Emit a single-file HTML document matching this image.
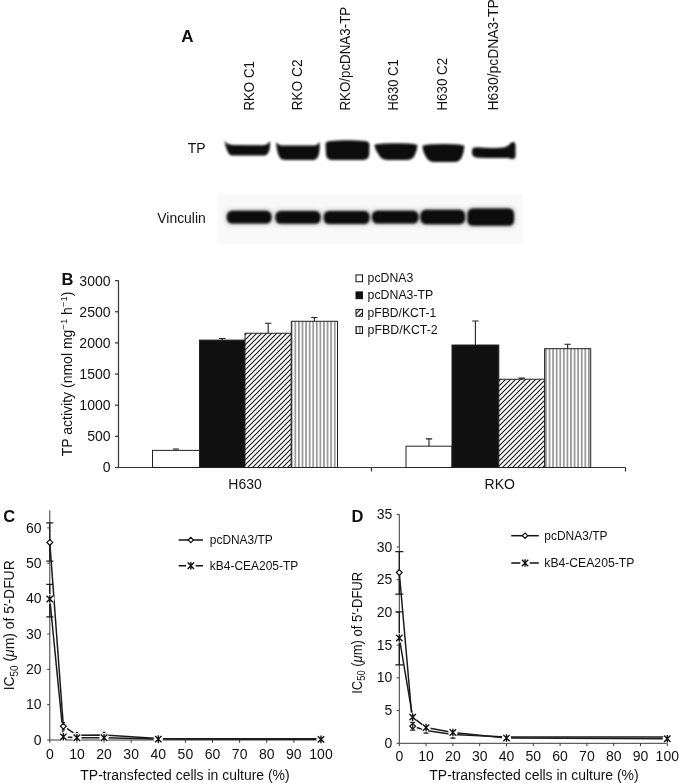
<!DOCTYPE html>
<html lang="en"><head><meta charset="utf-8"><title>Figure</title>
<style>html,body{margin:0;padding:0;background:#fff}svg{display:block}text{font-family:"Liberation Sans", sans-serif;fill:#111}</style></head><body>
<svg width="679" height="783" viewBox="0 0 679 783">
<defs>
<filter id="b1" x="-20%" y="-50%" width="140%" height="200%"><feGaussianBlur stdDeviation="0.85"/></filter>
<filter id="b2" x="-20%" y="-50%" width="140%" height="200%"><feGaussianBlur stdDeviation="1.0"/></filter>
<pattern id="hatch" width="5" height="5" patternUnits="userSpaceOnUse"><rect width="5" height="5" fill="#fff"/><path d="M-1,1 L1,-1 M-0.5,5.5 L5.5,-0.5 M4,6 L6,4" stroke="#1a1a1a" stroke-width="1.15"/></pattern>
<pattern id="vert" width="3.58" height="4" patternUnits="userSpaceOnUse"><rect width="3.58" height="4" fill="#fff"/><rect x="1.3" width="0.95" height="4" fill="#444"/></pattern>
</defs>
<rect width="679" height="783" fill="#fff"/>
<text x="181.3" y="42" font-size="17" text-anchor="start" font-weight="bold">A</text>
<text x="254.0" y="110.6" font-size="14" text-anchor="start" font-weight="normal" transform="rotate(-90 254.0 110.6)" textLength="49.5" lengthAdjust="spacingAndGlyphs">RKO C1</text>
<text x="302.0" y="110.6" font-size="14" text-anchor="start" font-weight="normal" transform="rotate(-90 302.0 110.6)" textLength="51.3" lengthAdjust="spacingAndGlyphs">RKO C2</text>
<text x="350.4" y="110.6" font-size="14" text-anchor="start" font-weight="normal" transform="rotate(-90 350.4 110.6)" textLength="103.8" lengthAdjust="spacingAndGlyphs">RKO/pcDNA3-TP</text>
<text x="398.0" y="110.6" font-size="14" text-anchor="start" font-weight="normal" transform="rotate(-90 398.0 110.6)" textLength="51.3" lengthAdjust="spacingAndGlyphs">H630 C1</text>
<text x="447.5" y="110.6" font-size="14" text-anchor="start" font-weight="normal" transform="rotate(-90 447.5 110.6)" textLength="52.8" lengthAdjust="spacingAndGlyphs">H630 C2</text>
<text x="498.0" y="110.6" font-size="14" text-anchor="start" font-weight="normal" transform="rotate(-90 498.0 110.6)" textLength="111.3" lengthAdjust="spacingAndGlyphs">H630/pcDNA3-TP</text>
<text x="205.6" y="153.3" font-size="14" text-anchor="end" font-weight="normal">TP</text>
<text x="205.8" y="222.9" font-size="14" text-anchor="end" font-weight="normal" textLength="48.5" lengthAdjust="spacingAndGlyphs">Vinculin</text>
<rect x="217.5" y="194" width="305" height="50" fill="#f8f8f8"/>
<g filter="url(#b1)" fill="#0a0a0a">
<path d="M224.6,140.2 C226,143.6 229,144.7 233,144.9 L262,145.2 C266,145.1 268.6,143.9 270,141 C270.5,147 269.3,151.5 267.8,153.6 C266.6,155.3 264.8,155.6 262.5,155.6 L233.5,155.6 C230.6,155.6 229.3,154.7 228.3,152.7 C226.4,149 225,145 224.6,140.2 Z"/>
<path d="M276.3,141.7 C277.5,144.6 280,145.5 284,145.6 L312,145.6 C316,145.5 318.3,144.4 319.5,141.7 C320.1,148 319.6,153 318.1,156.2 C316.9,159.4 314.6,160 312,160 L285.5,160 C282.6,160 280.4,159.4 279.2,156.6 C277.4,152.5 276.3,148 276.3,141.7 Z"/>
<path d="M325.5,144 Q326,141.2 331,141 Q347,139.6 364,141 Q369,141.2 369.5,144.5 L369.2,154.5 Q368.8,159.6 363,159.9 L332,159.9 Q326.5,159.6 326,154.5 Z"/>
<path d="M374.2,144.8 Q378,143.8 384,143.5 Q396,142.8 408,143.5 Q414,143.8 417.5,145 Q417,151 414.3,156 Q412.3,159.7 407.5,159.9 L386.5,159.9 Q382,159.7 379.5,156 Q375.2,150.5 374.2,144.8 Z"/>
<path d="M422.5,145.8 Q426,144.6 432,144.3 Q444,143.8 455,144.3 Q461,144.6 464.4,145.8 Q464.2,152 461.6,157.5 Q459.6,161.8 454.5,162.1 L433.5,162.1 Q429,161.8 426.4,157.5 Q422.7,152 422.5,145.8 Z"/>
<path d="M472,150 Q472.5,147.2 477,147.3 Q490,148.8 503,147.5 Q508,146.8 510.3,143.6 Q511.3,141.8 513.5,141.9 Q515.5,142.1 515.5,145 L515.5,156.3 Q515.4,159.1 512.5,159 Q510,158.8 508.5,157.9 Q490,158.4 478,157.7 Q472.4,157.2 472,153.5 Z"/>
</g>
<filter id="b3" x="-20%" y="-80%" width="140%" height="260%"><feGaussianBlur stdDeviation="2.6"/></filter>
<g filter="url(#b3)" fill="#000" opacity="0.22">
<rect x="225.8" y="209.8" width="46.69999999999999" height="14.799999999999983" rx="5"/>
<rect x="274.5" y="210" width="47.0" height="14.800000000000011" rx="5"/>
<rect x="322.8" y="210" width="47.69999999999999" height="15" rx="5"/>
<rect x="371" y="209.8" width="48.5" height="14.799999999999983" rx="5"/>
<rect x="419.5" y="208.8" width="46.5" height="16.399999999999977" rx="5"/>
<rect x="466.5" y="207.5" width="48.5" height="19.30000000000001" rx="5"/>
</g>
<g filter="url(#b2)" fill="#0a0a0a">
<rect x="226.8" y="210.8" width="44.69999999999999" height="12.799999999999983" rx="5.4"/>
<rect x="275.5" y="211" width="45.0" height="12.800000000000011" rx="5.4"/>
<rect x="323.8" y="211" width="45.69999999999999" height="13" rx="5.4"/>
<rect x="372" y="210.8" width="46.5" height="12.799999999999983" rx="5.4"/>
<rect x="420.5" y="209.8" width="44.5" height="14.399999999999977" rx="5.4"/>
<rect x="467.5" y="208.5" width="46.5" height="17.30000000000001" rx="5.4"/>
</g>
<text x="61.5" y="285.1" font-size="16.5" text-anchor="start" font-weight="bold">B</text>
<path d="M118.5,280.5 V467.5 M115,467.5 H625.5 M371.5,467.5 v4 M625.5,467.5 v4" stroke="#333" stroke-width="1.2" fill="none"/>
<path d="M115,467.50 H118.5" stroke="#333" stroke-width="1.2"/>
<text x="110.5" y="472.4" font-size="14" text-anchor="end" font-weight="normal">0</text>
<path d="M115,436.35 H118.5" stroke="#333" stroke-width="1.2"/>
<text x="110.5" y="441.25" font-size="14" text-anchor="end" font-weight="normal">500</text>
<path d="M115,405.20 H118.5" stroke="#333" stroke-width="1.2"/>
<text x="110.5" y="410.1" font-size="14" text-anchor="end" font-weight="normal">1000</text>
<path d="M115,374.05 H118.5" stroke="#333" stroke-width="1.2"/>
<text x="110.5" y="378.95" font-size="14" text-anchor="end" font-weight="normal">1500</text>
<path d="M115,342.90 H118.5" stroke="#333" stroke-width="1.2"/>
<text x="110.5" y="347.8" font-size="14" text-anchor="end" font-weight="normal">2000</text>
<path d="M115,311.75 H118.5" stroke="#333" stroke-width="1.2"/>
<text x="110.5" y="316.65" font-size="14" text-anchor="end" font-weight="normal">2500</text>
<path d="M115,280.60 H118.5" stroke="#333" stroke-width="1.2"/>
<text x="110.5" y="285.5" font-size="14" text-anchor="end" font-weight="normal">3000</text>
<text x="72.3" y="456.2" font-size="14" transform="rotate(-90 72.3 456.2)">TP activity (nmol mg<tspan font-size="9.5" dy="-4.8">−1</tspan><tspan dy="4.8"> h</tspan><tspan font-size="9.5" dy="-4.8">−1</tspan><tspan dy="4.8">)</tspan></text>
<rect x="152.5" y="450.37" width="47.0" height="17.13" fill="#fff" stroke="#222" stroke-width="1"/>
<path d="M176.0,450.37 V449.00 M172.8,449.00 H179.2" stroke="#222" stroke-width="1.1" fill="none"/>
<rect x="199.5" y="340.10" width="45.5" height="127.40" fill="#111" stroke="#222" stroke-width="1"/>
<path d="M222.25,340.10 V338.54 M219.05,338.54 H225.45" stroke="#222" stroke-width="1.1" fill="none"/>
<rect x="245" y="333.24" width="46.30000000000001" height="134.26" fill="url(#hatch)" stroke="#222" stroke-width="1"/>
<path d="M268.15,333.24 V323.28 M264.95,323.28 H271.34999999999997" stroke="#222" stroke-width="1.1" fill="none"/>
<rect x="291.3" y="321.28" width="46.19999999999999" height="146.22" fill="url(#vert)" stroke="#222" stroke-width="1"/>
<path d="M314.4,321.28 V317.54 M311.2,317.54 H317.59999999999997" stroke="#222" stroke-width="1.1" fill="none"/>
<rect x="406" y="446.19" width="46" height="21.31" fill="#fff" stroke="#222" stroke-width="1"/>
<path d="M429.0,446.19 V438.90 M425.8,438.90 H432.2" stroke="#222" stroke-width="1.1" fill="none"/>
<rect x="452" y="345.02" width="46.80000000000001" height="122.48" fill="#111" stroke="#222" stroke-width="1"/>
<path d="M475.4,345.02 V321.03 M472.2,321.03 H478.59999999999997" stroke="#222" stroke-width="1.1" fill="none"/>
<rect x="498.8" y="379.22" width="45.80000000000001" height="88.28" fill="url(#hatch)" stroke="#222" stroke-width="1"/>
<path d="M521.7,379.22 V378.10 M518.5,378.10 H524.9000000000001" stroke="#222" stroke-width="1.1" fill="none"/>
<rect x="544.6" y="348.69" width="46.10000000000002" height="118.81" fill="url(#vert)" stroke="#222" stroke-width="1"/>
<path d="M567.6500000000001,348.69 V344.21 M564.45,344.21 H570.8500000000001" stroke="#222" stroke-width="1.1" fill="none"/>
<text x="245" y="489.2" font-size="14" text-anchor="middle" font-weight="normal">H630</text>
<text x="499.7" y="489.3" font-size="14" text-anchor="middle" font-weight="normal">RKO</text>
<rect x="356" y="274.9" width="6.5" height="6.8" fill="#fff" stroke="#111" stroke-width="1"/>
<text x="367.6" y="282.2" font-size="12" text-anchor="start" font-weight="normal" textLength="45.7" lengthAdjust="spacingAndGlyphs">pcDNA3</text>
<rect x="356" y="291.9" width="6.5" height="6.8" fill="#111" stroke="#111" stroke-width="1"/>
<text x="367.6" y="299.2" font-size="12" text-anchor="start" font-weight="normal" textLength="65.7" lengthAdjust="spacingAndGlyphs">pcDNA3-TP</text>
<rect x="356" y="309.4" width="6.5" height="6.8" fill="url(#hatch)" stroke="#111" stroke-width="1"/>
<text x="367.6" y="316.7" font-size="12" text-anchor="start" font-weight="normal" textLength="68.6" lengthAdjust="spacingAndGlyphs">pFBD/KCT-1</text>
<rect x="356" y="326.7" width="6.5" height="6.8" fill="url(#vert)" stroke="#111" stroke-width="1"/>
<text x="367.6" y="334" font-size="12" text-anchor="start" font-weight="normal" textLength="70.1" lengthAdjust="spacingAndGlyphs">pFBD/KCT-2</text>
<text x="3.3" y="522.3" font-size="16.5" text-anchor="start" font-weight="bold">C</text>
<path d="M49.8,510.3 V740 H321.50000000000006" stroke="#3a3a3a" stroke-width="1" fill="none"/>
<path d="M47.199999999999996,740.00 H49.8" stroke="#3a3a3a" stroke-width="1"/>
<text x="41.599999999999994" y="744.6" font-size="14" text-anchor="end" font-weight="normal">0</text>
<path d="M47.199999999999996,704.65 H49.8" stroke="#3a3a3a" stroke-width="1"/>
<text x="41.599999999999994" y="709.25" font-size="14" text-anchor="end" font-weight="normal">10</text>
<path d="M47.199999999999996,669.30 H49.8" stroke="#3a3a3a" stroke-width="1"/>
<text x="41.599999999999994" y="673.9" font-size="14" text-anchor="end" font-weight="normal">20</text>
<path d="M47.199999999999996,633.95 H49.8" stroke="#3a3a3a" stroke-width="1"/>
<text x="41.599999999999994" y="638.55" font-size="14" text-anchor="end" font-weight="normal">30</text>
<path d="M47.199999999999996,598.60 H49.8" stroke="#3a3a3a" stroke-width="1"/>
<text x="41.599999999999994" y="603.2" font-size="14" text-anchor="end" font-weight="normal">40</text>
<path d="M47.199999999999996,563.25 H49.8" stroke="#3a3a3a" stroke-width="1"/>
<text x="41.599999999999994" y="567.85" font-size="14" text-anchor="end" font-weight="normal">50</text>
<path d="M47.199999999999996,527.90 H49.8" stroke="#3a3a3a" stroke-width="1"/>
<text x="41.599999999999994" y="532.5" font-size="14" text-anchor="end" font-weight="normal">60</text>
<path d="M49.80,740 v2.8" stroke="#3a3a3a" stroke-width="1"/>
<text x="49.8" y="758.9" font-size="14" text-anchor="middle" font-weight="normal">0</text>
<path d="M76.92,740 v2.8" stroke="#3a3a3a" stroke-width="1"/>
<text x="76.92" y="758.9" font-size="14" text-anchor="middle" font-weight="normal">10</text>
<path d="M104.04,740 v2.8" stroke="#3a3a3a" stroke-width="1"/>
<text x="104.04" y="758.9" font-size="14" text-anchor="middle" font-weight="normal">20</text>
<path d="M131.16,740 v2.8" stroke="#3a3a3a" stroke-width="1"/>
<text x="131.16" y="758.9" font-size="14" text-anchor="middle" font-weight="normal">30</text>
<path d="M158.28,740 v2.8" stroke="#3a3a3a" stroke-width="1"/>
<text x="158.28" y="758.9" font-size="14" text-anchor="middle" font-weight="normal">40</text>
<path d="M185.40,740 v2.8" stroke="#3a3a3a" stroke-width="1"/>
<text x="185.4" y="758.9" font-size="14" text-anchor="middle" font-weight="normal">50</text>
<path d="M212.52,740 v2.8" stroke="#3a3a3a" stroke-width="1"/>
<text x="212.52" y="758.9" font-size="14" text-anchor="middle" font-weight="normal">60</text>
<path d="M239.64,740 v2.8" stroke="#3a3a3a" stroke-width="1"/>
<text x="239.64" y="758.9" font-size="14" text-anchor="middle" font-weight="normal">70</text>
<path d="M266.76,740 v2.8" stroke="#3a3a3a" stroke-width="1"/>
<text x="266.76" y="758.9" font-size="14" text-anchor="middle" font-weight="normal">80</text>
<path d="M293.88,740 v2.8" stroke="#3a3a3a" stroke-width="1"/>
<text x="293.88" y="758.9" font-size="14" text-anchor="middle" font-weight="normal">90</text>
<path d="M321.00,740 v2.8" stroke="#3a3a3a" stroke-width="1"/>
<text x="321.0" y="758.9" font-size="14" text-anchor="middle" font-weight="normal">100</text>
<text x="185" y="779.9" font-size="14" text-anchor="middle" font-weight="normal" textLength="209.3" lengthAdjust="spacingAndGlyphs">TP-transfected cells in culture (%)</text>
<text x="14.3" y="690.3" font-size="14" transform="rotate(-90 14.3 690.3)" textLength="130" lengthAdjust="spacingAndGlyphs">IC<tspan font-size="10" dy="3.6">50</tspan><tspan dy="-3.6"> (</tspan><tspan font-style="italic">μ</tspan>m) of 5′-DFUR</text>
<path d="M49.80,522.95 V561.13 M46.30,522.95 H53.30 M46.30,561.13 H53.30" stroke="#1a1a1a" stroke-width="1.25" fill="none"/>
<path d="M49.80,584.46 V616.98 M46.30,584.46 H53.30 M46.30,616.98 H53.30" stroke="#1a1a1a" stroke-width="1.25" fill="none"/>
<polyline points="49.80,542.39 63.36,726.21 76.92,735.23 104.04,735.05 158.28,738.59 321.00,738.76" fill="none" stroke="#1c1c1c" stroke-width="1.5" stroke-linejoin="round"/>
<polyline points="49.80,598.95 63.36,736.82 76.92,737.70 104.04,737.70 158.28,739.12 321.00,739.36" fill="none" stroke="#1c1c1c" stroke-width="1.5" stroke-linejoin="round"/>
<circle cx="63.36" cy="726.21" r="4.3" fill="#fff"/>
<circle cx="76.92" cy="735.23" r="4.3" fill="#fff"/>
<circle cx="104.04" cy="735.05" r="4.3" fill="#fff"/>
<path d="M63.36,722.68 V729.75 M61.76,722.68 H64.96 M61.76,729.75 H64.96" stroke="#1a1a1a" stroke-width="1.25" fill="none"/>
<path d="M46.90,542.39 L49.80,539.49 L52.70,542.39 L49.80,545.29 Z" fill="#fff" stroke="#111" stroke-width="1.2"/>
<path d="M60.46,726.21 L63.36,723.31 L66.26,726.21 L63.36,729.11 Z" fill="#fff" stroke="#111" stroke-width="1.2"/>
<path d="M74.02,735.23 L76.92,732.33 L79.82,735.23 L76.92,738.13 Z" fill="#fff" stroke="#111" stroke-width="1.2"/>
<path d="M101.14,735.05 L104.04,732.15 L106.94,735.05 L104.04,737.95 Z" fill="#fff" stroke="#111" stroke-width="1.2"/>
<circle cx="49.80" cy="598.95" r="4.6" fill="#fff"/>
<circle cx="63.36" cy="736.82" r="4.6" fill="#fff"/>
<circle cx="76.92" cy="737.70" r="4.6" fill="#fff"/>
<circle cx="104.04" cy="737.70" r="4.6" fill="#fff"/>
<circle cx="158.28" cy="739.12" r="4.6" fill="#fff"/>
<circle cx="321.00" cy="739.36" r="4.6" fill="#fff"/>
<path d="M46.60,595.75 L53.00,602.15 M46.60,602.15 L53.00,595.75 M49.80,595.15 V602.75" stroke="#111" stroke-width="1.4" fill="none"/>
<path d="M60.16,733.62 L66.56,740.02 M60.16,740.02 L66.56,733.62 M63.36,733.02 V740.62" stroke="#111" stroke-width="1.4" fill="none"/>
<path d="M73.72,734.50 L80.12,740.90 M73.72,740.90 L80.12,734.50 M76.92,733.90 V741.50" stroke="#111" stroke-width="1.4" fill="none"/>
<path d="M100.84,734.50 L107.24,740.90 M100.84,740.90 L107.24,734.50 M104.04,733.90 V741.50" stroke="#111" stroke-width="1.4" fill="none"/>
<path d="M155.08,735.92 L161.48,742.32 M155.08,742.32 L161.48,735.92 M158.28,735.32 V742.92" stroke="#111" stroke-width="1.4" fill="none"/>
<path d="M317.80,736.16 L324.20,742.56 M317.80,742.56 L324.20,736.16 M321.00,735.56 V743.16" stroke="#111" stroke-width="1.4" fill="none"/>
<path d="M178.7,540 h24.3" stroke="#111" stroke-width="1.5"/>
<path d="M188.15,540.00 L190.85,537.30 L193.55,540.00 L190.85,542.70 Z" fill="#fff" stroke="#111" stroke-width="1.2"/>
<path d="M178.7,565.8 h7.4 M195.6,565.8 h7.4" stroke="#111" stroke-width="1.5"/>
<path d="M187.65,562.60 L194.05,569.00 M187.65,569.00 L194.05,562.60 M190.85,562.00 V569.60" stroke="#111" stroke-width="1.4" fill="none"/>
<text x="209.8" y="543.8" font-size="12" text-anchor="start" font-weight="normal" textLength="62.9" lengthAdjust="spacingAndGlyphs">pcDNA3/TP</text>
<text x="209.8" y="569.6" font-size="12" text-anchor="start" font-weight="normal" textLength="88.4" lengthAdjust="spacingAndGlyphs">kB4-CEA205-TP</text>
<text x="351.5" y="522.3" font-size="16.5" text-anchor="start" font-weight="bold">D</text>
<path d="M399.3,514.3 V743.3 H667.8" stroke="#3a3a3a" stroke-width="1" fill="none"/>
<path d="M396.7,743.30 H399.3" stroke="#3a3a3a" stroke-width="1"/>
<text x="392.40000000000003" y="747.9" font-size="14" text-anchor="end" font-weight="normal">0</text>
<path d="M396.7,710.58 H399.3" stroke="#3a3a3a" stroke-width="1"/>
<text x="392.40000000000003" y="715.18" font-size="14" text-anchor="end" font-weight="normal">5</text>
<path d="M396.7,677.87 H399.3" stroke="#3a3a3a" stroke-width="1"/>
<text x="392.40000000000003" y="682.47" font-size="14" text-anchor="end" font-weight="normal">10</text>
<path d="M396.7,645.15 H399.3" stroke="#3a3a3a" stroke-width="1"/>
<text x="392.40000000000003" y="649.75" font-size="14" text-anchor="end" font-weight="normal">15</text>
<path d="M396.7,612.44 H399.3" stroke="#3a3a3a" stroke-width="1"/>
<text x="392.40000000000003" y="617.04" font-size="14" text-anchor="end" font-weight="normal">20</text>
<path d="M396.7,579.72 H399.3" stroke="#3a3a3a" stroke-width="1"/>
<text x="392.40000000000003" y="584.32" font-size="14" text-anchor="end" font-weight="normal">25</text>
<path d="M396.7,547.01 H399.3" stroke="#3a3a3a" stroke-width="1"/>
<text x="392.40000000000003" y="551.61" font-size="14" text-anchor="end" font-weight="normal">30</text>
<path d="M396.7,514.29 H399.3" stroke="#3a3a3a" stroke-width="1"/>
<text x="392.40000000000003" y="518.89" font-size="14" text-anchor="end" font-weight="normal">35</text>
<path d="M399.30,743.3 v2.8" stroke="#3a3a3a" stroke-width="1"/>
<text x="399.3" y="760.8" font-size="14" text-anchor="middle" font-weight="normal">0</text>
<path d="M426.10,743.3 v2.8" stroke="#3a3a3a" stroke-width="1"/>
<text x="426.1" y="760.8" font-size="14" text-anchor="middle" font-weight="normal">10</text>
<path d="M452.90,743.3 v2.8" stroke="#3a3a3a" stroke-width="1"/>
<text x="452.9" y="760.8" font-size="14" text-anchor="middle" font-weight="normal">20</text>
<path d="M479.70,743.3 v2.8" stroke="#3a3a3a" stroke-width="1"/>
<text x="479.7" y="760.8" font-size="14" text-anchor="middle" font-weight="normal">30</text>
<path d="M506.50,743.3 v2.8" stroke="#3a3a3a" stroke-width="1"/>
<text x="506.5" y="760.8" font-size="14" text-anchor="middle" font-weight="normal">40</text>
<path d="M533.30,743.3 v2.8" stroke="#3a3a3a" stroke-width="1"/>
<text x="533.3" y="760.8" font-size="14" text-anchor="middle" font-weight="normal">50</text>
<path d="M560.10,743.3 v2.8" stroke="#3a3a3a" stroke-width="1"/>
<text x="560.1" y="760.8" font-size="14" text-anchor="middle" font-weight="normal">60</text>
<path d="M586.90,743.3 v2.8" stroke="#3a3a3a" stroke-width="1"/>
<text x="586.9" y="760.8" font-size="14" text-anchor="middle" font-weight="normal">70</text>
<path d="M613.70,743.3 v2.8" stroke="#3a3a3a" stroke-width="1"/>
<text x="613.7" y="760.8" font-size="14" text-anchor="middle" font-weight="normal">80</text>
<path d="M640.50,743.3 v2.8" stroke="#3a3a3a" stroke-width="1"/>
<text x="640.5" y="760.8" font-size="14" text-anchor="middle" font-weight="normal">90</text>
<path d="M667.30,743.3 v2.8" stroke="#3a3a3a" stroke-width="1"/>
<text x="667.3" y="760.8" font-size="14" text-anchor="middle" font-weight="normal">100</text>
<text x="534" y="779.5" font-size="14" text-anchor="middle" font-weight="normal" textLength="209.3" lengthAdjust="spacingAndGlyphs">TP-transfected cells in culture (%)</text>
<text x="361.9" y="693.8" font-size="14" transform="rotate(-90 361.9 693.8)" textLength="122" lengthAdjust="spacingAndGlyphs">IC<tspan font-size="10" dy="3.6">50</tspan><tspan dy="-3.6"> (</tspan><tspan font-style="italic">μ</tspan>m) of 5′-DFUR</text>
<path d="M399.30,551.59 V594.12 M395.30,551.59 H403.30 M395.30,594.12 H403.30" stroke="#1a1a1a" stroke-width="1.25" fill="none"/>
<path d="M399.30,611.79 V664.78 M395.30,611.79 H403.30 M395.30,664.78 H403.30" stroke="#1a1a1a" stroke-width="1.25" fill="none"/>
<polyline points="399.30,572.53 412.70,726.29 426.10,730.54 452.90,734.47 506.50,737.08 667.30,736.95" fill="none" stroke="#1c1c1c" stroke-width="1.5" stroke-linejoin="round"/>
<polyline points="399.30,637.96 412.70,717.13 426.10,727.60 452.90,732.50 506.50,738.07 667.30,738.72" fill="none" stroke="#1c1c1c" stroke-width="1.5" stroke-linejoin="round"/>
<circle cx="412.70" cy="726.29" r="4.3" fill="#fff"/>
<path d="M396.40,572.53 L399.30,569.63 L402.20,572.53 L399.30,575.43 Z" fill="#fff" stroke="#111" stroke-width="1.2"/>
<path d="M409.80,726.29 L412.70,723.39 L415.60,726.29 L412.70,729.19 Z" fill="#fff" stroke="#111" stroke-width="1.2"/>
<path d="M412.70,722.36 V730.21 M410.20,722.36 H415.20 M410.20,730.21 H415.20" stroke="#1a1a1a" stroke-width="1.25" fill="none"/>
<path d="M426.10,727.60 V733.16 M423.60,727.60 H428.60 M423.60,733.16 H428.60" stroke="#1a1a1a" stroke-width="1.25" fill="none"/>
<path d="M452.90,732.83 V738.07 M450.40,732.83 H455.40 M450.40,738.07 H455.40" stroke="#1a1a1a" stroke-width="1.25" fill="none"/>
<circle cx="399.30" cy="637.96" r="4.6" fill="#fff"/>
<circle cx="412.70" cy="717.13" r="4.6" fill="#fff"/>
<circle cx="426.10" cy="727.60" r="4.6" fill="#fff"/>
<circle cx="452.90" cy="732.50" r="4.6" fill="#fff"/>
<circle cx="506.50" cy="738.07" r="4.6" fill="#fff"/>
<circle cx="667.30" cy="738.72" r="4.6" fill="#fff"/>
<path d="M396.10,634.76 L402.50,641.16 M396.10,641.16 L402.50,634.76 M399.30,634.16 V641.76" stroke="#111" stroke-width="1.4" fill="none"/>
<path d="M409.50,713.93 L415.90,720.33 M409.50,720.33 L415.90,713.93 M412.70,713.33 V720.93" stroke="#111" stroke-width="1.4" fill="none"/>
<path d="M422.90,724.40 L429.30,730.80 M422.90,730.80 L429.30,724.40 M426.10,723.80 V731.40" stroke="#111" stroke-width="1.4" fill="none"/>
<path d="M449.70,729.30 L456.10,735.70 M449.70,735.70 L456.10,729.30 M452.90,728.70 V736.30" stroke="#111" stroke-width="1.4" fill="none"/>
<path d="M503.30,734.87 L509.70,741.27 M503.30,741.27 L509.70,734.87 M506.50,734.27 V741.87" stroke="#111" stroke-width="1.4" fill="none"/>
<path d="M664.10,735.52 L670.50,741.92 M664.10,741.92 L670.50,735.52 M667.30,734.92 V742.52" stroke="#111" stroke-width="1.4" fill="none"/>
<path d="M511.3,535.7 h27.5" stroke="#111" stroke-width="1.5"/>
<path d="M522.35,535.70 L525.05,533.00 L527.75,535.70 L525.05,538.40 Z" fill="#fff" stroke="#111" stroke-width="1.2"/>
<path d="M511.3,563 h9.0 M529.8,563 h9.0" stroke="#111" stroke-width="1.5"/>
<path d="M521.85,559.80 L528.25,566.20 M521.85,566.20 L528.25,559.80 M525.05,559.20 V566.80" stroke="#111" stroke-width="1.4" fill="none"/>
<text x="544.3" y="539.7" font-size="12" text-anchor="start" font-weight="normal" textLength="63.3" lengthAdjust="spacingAndGlyphs">pcDNA3/TP</text>
<text x="544.3" y="566.7" font-size="12" text-anchor="start" font-weight="normal" textLength="90" lengthAdjust="spacingAndGlyphs">kB4-CEA205-TP</text>
</svg></body></html>
